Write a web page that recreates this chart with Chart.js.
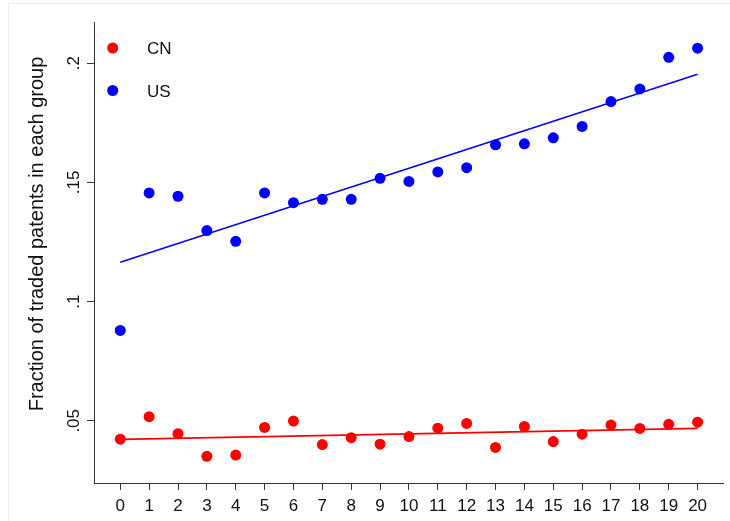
<!DOCTYPE html>
<html>
<head>
<meta charset="utf-8">
<style>
  html, body { margin: 0; padding: 0; background: #fff; }
  #wrap { position: relative; width: 730px; height: 521px; }
  canvas { display: block; }
</style>
<script src="https://cdn.jsdelivr.net/npm/chart.js@4/dist/chart.umd.min.js"></script>
</head>
<body>
<div id="wrap"><canvas id="chart" width="730" height="521"></canvas></div>
<script>
// Years since filing (x) and share of traded patents per group
const years = [0, 1, 2, 3, 4, 5, 6, 7, 8, 9, 10, 11, 12, 13, 14, 15, 16, 17, 18, 19, 20];
const cnShare = [0.0423, 0.0517, 0.0446, 0.0351, 0.0356, 0.0472, 0.0499, 0.0400, 0.0429, 0.0402, 0.0434,
                 0.0469, 0.0489, 0.0388, 0.0476, 0.0413, 0.0444, 0.0482, 0.0468, 0.0485, 0.0494];
const usShare = [0.0879, 0.1456, 0.1442, 0.1298, 0.1253, 0.1456, 0.1415, 0.1429, 0.1429, 0.1517, 0.1504,
                 0.1544, 0.1562, 0.1658, 0.1662, 0.1687, 0.1735, 0.1839, 0.1892, 0.2025, 0.2063];
// Linear fit lines: endpoints at the first and last year
const fitYears = [0, 20];
const cnFit = [0.0422, 0.0468];
const usFit = [0.1165, 0.1954];

const xTicks = years;
const yTicks = [0.05, 0.1, 0.15, 0.2];
const yTickLabels = ['.05', '.1', '.15', '.2'];
const seriesNames = ['CN', 'US'];
const yTitle = 'Fraction of traded patents in each group';

const RED = '#ff0000';
const BLUE = '#0000ff';
const AXIS = '#333333';
const FONT = '"Liberation Sans", Arial, sans-serif';

const toPoints = (xs, ys) => xs.map((x, i) => ({ x: x, y: ys[i] }));

// Rotated y tick labels, y-axis title, inset legend and outer frame
const decorations = {
  id: 'decorations',
  afterDraw(chart) {
    const ctx = chart.ctx;
    const ys = chart.scales.y;
    const area = chart.chartArea;
    ctx.save();

    // faint frame of the graph region
    ctx.strokeStyle = '#ececec';
    ctx.lineWidth = 1;
    ctx.strokeRect(8.5, 3.5, 740, 540);

    ctx.fillStyle = '#111';
    ctx.font = '17px ' + FONT;
    ctx.textAlign = 'center';
    ctx.textBaseline = 'alphabetic';
    yTicks.forEach((v, i) => {
      const py = ys.getPixelForValue(v);
      ctx.save();
      ctx.translate(area.left - 15, py);
      ctx.rotate(-Math.PI / 2);
      ctx.fillText(yTickLabels[i], 0, 0);
      ctx.restore();
    });

    ctx.save();
    ctx.font = '20px ' + FONT;
    ctx.translate(43, 234);
    ctx.rotate(-Math.PI / 2);
    ctx.fillText(yTitle, 0, 0);
    ctx.restore();

    // legend inside the plot region
    const colors = [RED, BLUE];
    ctx.font = '17px ' + FONT;
    ctx.textAlign = 'left';
    seriesNames.forEach((name, i) => {
      const cy = area.top + 26 + i * 42.5;
      ctx.beginPath();
      ctx.fillStyle = colors[i];
      ctx.arc(area.left + 18.7, cy, 5.5, 0, Math.PI * 2);
      ctx.fill();
      ctx.fillStyle = '#111';
      ctx.fillText(name, area.left + 53, cy + 6);
    });
    ctx.restore();
  }
};

new Chart(document.getElementById('chart'), {
  type: 'scatter',
  data: {
    datasets: [
      { label: seriesNames[0], data: toPoints(years, cnShare), backgroundColor: RED, borderColor: RED,
        pointRadius: 5.5, pointBorderWidth: 0, showLine: false, order: 1 },
      { label: seriesNames[1], data: toPoints(years, usShare), backgroundColor: BLUE, borderColor: BLUE,
        pointRadius: 5.5, pointBorderWidth: 0, showLine: false, order: 1 },
      { label: seriesNames[0] + ' fit', data: toPoints(fitYears, cnFit), borderColor: RED,
        borderWidth: 1.6, pointRadius: 0, showLine: true, order: 2 },
      { label: seriesNames[1] + ' fit', data: toPoints(fitYears, usFit), borderColor: BLUE,
        borderWidth: 1.6, pointRadius: 0, showLine: true, order: 2 }
    ]
  },
  options: {
    responsive: false,
    animation: false,
    devicePixelRatio: 1,
    layout: { padding: { left: 0, top: 22, right: 7, bottom: 0 } },
    plugins: { legend: { display: false }, tooltip: { enabled: false } },
    scales: {
      x: {
        type: 'linear',
        min: -0.91,
        max: 20.88,
        afterBuildTicks: (s) => { s.ticks = xTicks.map(v => ({ value: v })); },
        afterFit: (s) => { s.height = 38; },
        ticks: { color: '#111', font: { size: 17, family: FONT }, padding: 6, maxRotation: 0, autoSkip: false },
        grid: { drawOnChartArea: false, drawTicks: true, tickLength: 7, color: AXIS, lineWidth: 1 },
        border: { display: true, color: AXIS, width: 1 }
      },
      y: {
        type: 'linear',
        min: 0.0239,
        max: 0.2173,
        afterBuildTicks: (s) => { s.ticks = yTicks.map(v => ({ value: v })); },
        afterFit: (s) => { s.width = 94; },
        ticks: { display: false },
        grid: { drawOnChartArea: false, drawTicks: true, tickLength: 7, color: AXIS, lineWidth: 1 },
        border: { display: true, color: AXIS, width: 1 }
      }
    }
  },
  plugins: [decorations]
});
</script>
</body>
</html>
